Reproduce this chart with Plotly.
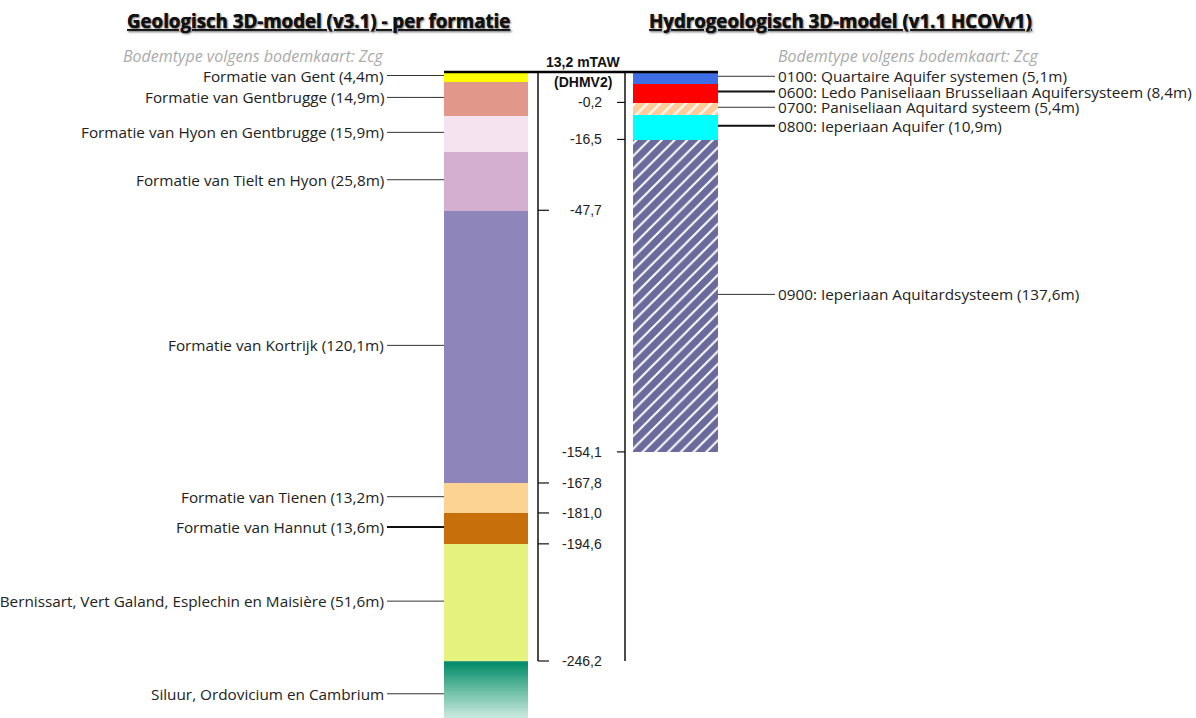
import numpy as np
import plotly.graph_objects as go

# ---------------- data ----------------
top_level = 13.2  # mTAW (DHMV2)

geo_names = ["Formatie van Gent", "Formatie van Gentbrugge", "Formatie van Hyon en Gentbrugge",
             "Formatie van Tielt en Hyon", "Formatie van Kortrijk", "Formatie van Tienen",
             "Formatie van Hannut", "Formaties van Bernissart, Vert Galand, Esplechin en Maisière",
             "Siluur, Ordovicium en Cambrium"]
geo_thick = [4.4, 14.9, 15.9, 25.8, 120.1, 13.2, 13.6, 51.6, None]
geo_colors = ["#FFFF00", "#E1978A", "#F5E3EF", "#D4AFCF", "#8E86BA", "#FCD393", "#C66F0B", "#E6F27E", None]
geo_bold_line = [False, False, False, False, False, False, True, False, False]
geo_tick_vals = [-47.7, -167.8, -181.0, -194.6, -246.2]
basement_shown = 30.0  # visible part of the basement column (no thickness given)

hyd_names = ["0100: Quartaire Aquifer systemen", "0600: Ledo Paniseliaan Brusseliaan Aquifersysteem",
             "0700: Paniseliaan Aquitard systeem", "0800: Ieperiaan Aquifer",
             "0900: Ieperiaan Aquitardsysteem"]
hyd_thick = [5.1, 8.4, 5.4, 10.9, 137.6]
hyd_colors = ["#3D6EE6", "#FF0000", "#FFCB99", "#00FFFF", "#6A6A9C"]
hyd_hatch = [False, False, True, False, True]
hyd_bold_line = [False, True, False, True, False]
hyd_tick_vals = [-0.2, -16.5, -154.1]

# ---------------- layout helpers ----------------
W, H = 1196, 718
px_top, px_bot = 72, 661            # pixel rows of 13.2 and -246.2
bottom_level = -246.2
scale = (px_bot - px_top) / (top_level - bottom_level)
y_max = top_level + px_top / scale
y_min = bottom_level - (H - px_bot) / scale
lab_shift = 1.5 / scale             # labels sit a little above the layer middle

geo_x0, geo_x1 = 444, 528
hyd_x0, hyd_x1 = 633, 718
axL, axR = 538, 625

def fmt(v):
    return f"{v:.1f}".replace(".", ",")

label_font = dict(family="Open Sans, sans-serif", size=15.3, color="#222222")
num_font = dict(family="Liberation Sans, Arial, sans-serif", size=14, color="#222222")

fig = go.Figure()
ann = []

# geological column
cur = top_level
for i, name in enumerate(geo_names):
    t = geo_thick[i]
    if t is None:
        bottom = cur - basement_shown
        n = 60
        edges = np.linspace(cur, bottom, n + 1)
        z = [[k / (n - 1)] for k in range(n)]
        fig.add_trace(go.Heatmap(x=[geo_x0, geo_x1], y=edges, z=z, showscale=False,
                                 colorscale=[[0, "#008A67"], [0.45, "#6FC0A6"], [1, "#F2FAF7"]],
                                 hoverinfo="skip"))
        text = name
    else:
        bottom = cur - t
        fig.add_trace(go.Bar(x=[(geo_x0 + geo_x1) / 2], width=[geo_x1 - geo_x0], base=[bottom], y=[t],
                             marker=dict(color=geo_colors[i], line=dict(width=0)),
                             hoverinfo="skip", showlegend=False))
        text = f"{name} ({fmt(t)}m)"
    mid = (cur + bottom) / 2 + lab_shift
    fig.add_trace(go.Scatter(x=[387, geo_x0], y=[mid, mid], mode="lines",
                             line=dict(color="#111111" if geo_bold_line[i] else "#333333",
                                       width=2 if geo_bold_line[i] else 1),
                             hoverinfo="skip", showlegend=False))
    ann.append(dict(x=386, y=mid, text=text, xanchor="right", yanchor="middle",
                    showarrow=False, font=label_font))
    cur = bottom

# hydrogeological column
cur = top_level
for i, name in enumerate(hyd_names):
    t = hyd_thick[i]
    bottom = cur - t
    if hyd_hatch[i]:
        marker = dict(color=hyd_colors[i], line=dict(width=0),
                      pattern=dict(shape="/", fgcolor="white", bgcolor=hyd_colors[i],
                                   size=9, solidity=0.22, fillmode="replace"))
    else:
        marker = dict(color=hyd_colors[i], line=dict(width=0))
    fig.add_trace(go.Bar(x=[(hyd_x0 + hyd_x1) / 2], width=[hyd_x1 - hyd_x0], base=[bottom], y=[t],
                         marker=marker, hoverinfo="skip", showlegend=False))
    mid = (cur + bottom) / 2 + lab_shift
    fig.add_trace(go.Scatter(x=[hyd_x1, 775], y=[mid, mid], mode="lines",
                             line=dict(color="#111111" if hyd_bold_line[i] else "#333333",
                                       width=2 if hyd_bold_line[i] else 1),
                             hoverinfo="skip", showlegend=False))
    ann.append(dict(x=776, y=mid, text=f"{name} ({fmt(t)}m)", xanchor="left", yanchor="middle",
                    showarrow=False, font=label_font))
    cur = bottom

# depth axes
for xa in (axL, axR):
    fig.add_trace(go.Scatter(x=[xa, xa], y=[top_level, bottom_level], mode="lines",
                             line=dict(color="#111111", width=1.5), hoverinfo="skip", showlegend=False))
for v in geo_tick_vals:
    fig.add_trace(go.Scatter(x=[axL, axL + 11], y=[v, v], mode="lines",
                             line=dict(color="#111111", width=1.2), hoverinfo="skip", showlegend=False))
    ann.append(dict(x=604, y=v, text=fmt(v), xanchor="right", yanchor="middle",
                    showarrow=False, font=num_font))
for v in hyd_tick_vals:
    fig.add_trace(go.Scatter(x=[axR - 8, axR], y=[v, v], mode="lines",
                             line=dict(color="#111111", width=1.2), hoverinfo="skip", showlegend=False))
    ann.append(dict(x=604, y=v, text=fmt(v), xanchor="right", yanchor="middle",
                    showarrow=False, font=num_font))

# surface line
fig.add_trace(go.Scatter(x=[geo_x0, hyd_x1], y=[top_level, top_level], mode="lines",
                         line=dict(color="#000000", width=2.5), hoverinfo="skip", showlegend=False))

bold_num = dict(family="Liberation Sans, Arial, sans-serif", size=14, color="#111111", weight="bold")
ann.append(dict(x=583, y=top_level + 10 / scale, text="13,2 mTAW", xanchor="center", yanchor="middle",
                showarrow=False, font=bold_num))
ann.append(dict(x=583, y=top_level - 10 / scale, text="(DHMV2)", xanchor="center", yanchor="middle",
                showarrow=False, font=bold_num))

# titles and subtitles
title_font = dict(family="Open Sans, sans-serif", size=18.7, color="#111111", weight="bold",
                  lineposition="under", shadow="1px 1px 2px rgba(0,0,0,0.35)")
ann.append(dict(x=318, y=y_max - 20 / scale, text="Geologisch 3D-model (v3.1) - per formatie",
                xanchor="center", yanchor="middle", showarrow=False, font=title_font))
ann.append(dict(x=840, y=y_max - 20 / scale, text="Hydrogeologisch 3D-model (v1.1 HCOVv1)",
                xanchor="center", yanchor="middle", showarrow=False, font=title_font))
sub_font = dict(family="Open Sans, sans-serif", size=16, color="#AAAAAA", style="italic")
ann.append(dict(x=386, y=y_max - 56 / scale, text="Bodemtype volgens bodemkaart: Zcg",
                xanchor="right", yanchor="middle", showarrow=False, font=sub_font))
ann.append(dict(x=776, y=y_max - 56 / scale, text="Bodemtype volgens bodemkaart: Zcg",
                xanchor="left", yanchor="middle", showarrow=False, font=sub_font))

fig.update_layout(
    width=W, height=H, margin=dict(l=0, r=0, t=0, b=0),
    paper_bgcolor="white", plot_bgcolor="white",
    barmode="overlay", bargap=0, showlegend=False,
    xaxis=dict(range=[0, W], visible=False, fixedrange=True),
    yaxis=dict(range=[y_min, y_max], visible=False, fixedrange=True),
    annotations=ann,
)
fig.write_html("out.html")
